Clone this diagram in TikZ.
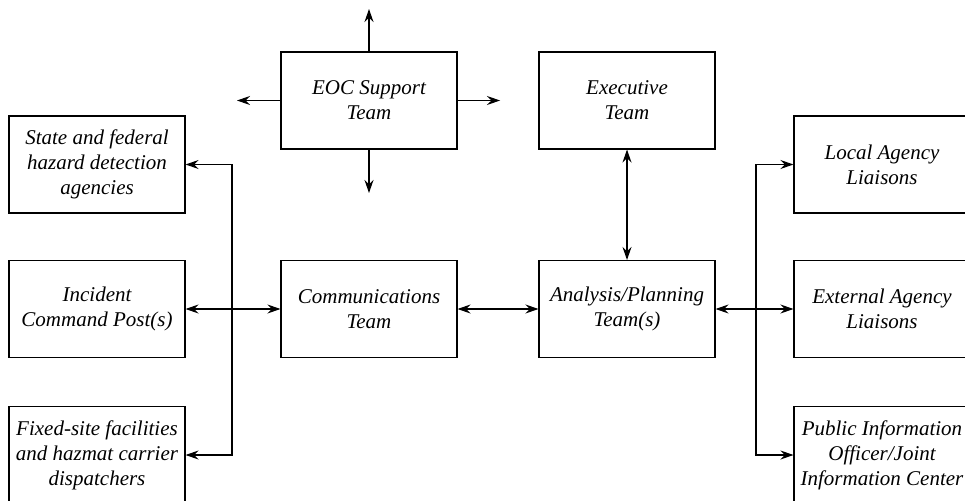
\documentclass[tikz,border=0pt]{standalone}
\usepackage{fontspec}
\setmainfont{Liberation Serif}
\usetikzlibrary{arrows.meta}
\begin{document}
\begin{tikzpicture}[x=1pt,y=-1pt,
  tip/.tip={Stealth[length=13pt,width=9pt,inset=4.5pt]},
  box/.style={draw, line width=1.1pt, minimum width=176pt, minimum height=97pt,
    align=center, inner sep=0pt, font=\fontsize{21}{25}\selectfont\itshape},
  conn/.style={line width=1.1pt, arrows={-tip}},
  dconn/.style={line width=1.1pt, arrows={tip-tip}}]
\useasboundingbox (0,0) rectangle (965,500);
\clip (0,0) rectangle (965,500);
\node[box] (eoc) at (369,100.5) {EOC Support\\Team};
\node[box] (exec) at (627,100.5) {Executive\\Team};
\node[box] (state) at (97,164.5) {State and federal\\hazard detection\\agencies};
\node[box] (icp) at (97,309) {Incident\\Command Post(s)};
\node[box] (fixed) at (97,455) {Fixed-site facilities\\and hazmat carrier\\dispatchers};
\node[box] (comm) at (369,309) {Communications\\Team};
\node[box] (ana) at (627,309) {Analysis/Planning\\Team(s)};
\node[box] (local) at (882,164.5) {Local Agency\\Liaisons};
\node[box] (ext) at (882,309) {External Agency\\Liaisons};
\node[box] (pio) at (882,455) {Public Information\\Officer/Joint\\Information Center};
\coordinate (up) at (369,9);
\coordinate (down) at (369,193);
\coordinate (lft) at (237,100.5);
\coordinate (rgt) at (500,100.5);
\coordinate (jL) at (232,309);
\coordinate (jR) at (756,309);
\draw[conn] (eoc) -- (up);
\draw[conn] (eoc) -- (down);
\draw[conn] (eoc) -- (lft);
\draw[conn] (eoc) -- (rgt);
\draw[dconn] (icp) -- (comm);
\draw[conn] (jL) |- (state);
\draw[conn] (jL) |- (fixed);
\draw[dconn] (comm) -- (ana);
\draw[dconn] (exec) -- (ana);
\draw[dconn] (ana) -- (ext);
\draw[conn] (jR) |- (local);
\draw[conn] (jR) |- (pio);
\end{tikzpicture}
\end{document}
